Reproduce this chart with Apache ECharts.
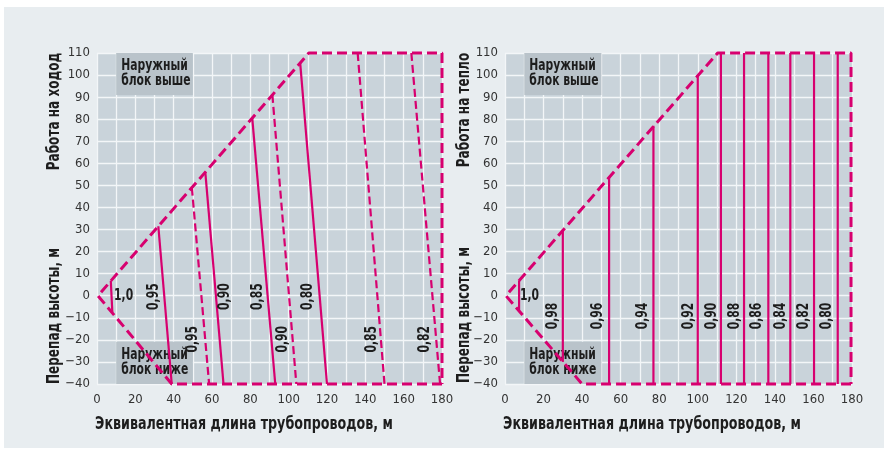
<!DOCTYPE html>
<html>
<head>
<meta charset="utf-8">
<script src="https://cdn.jsdelivr.net/npm/echarts@6/dist/echarts.min.js"></script>
<style>
  html, body { margin: 0; padding: 0; background: #ffffff; }
  #chart { width: 887px; height: 452px; }
</style>
</head>
<body>
<div id="chart"></div>
<script>
// ---- Cooling mode (left panel): correction-factor lines ----
const coolEnvelope = [[180, -40], [39, -40], [0.5, 0], [110.5, 110], [180, 110], [180, -40]];
const coolSolidTop = [[7.2, 6.7], [32, 31.5], [56.5, 56], [81, 80.5], [106, 105.5]];
const coolSolidBottom = [[8, -7.5], [39, -40], [66, -40], [93, -40], [120, -40]];
const coolDashedTop = [[49.5, 49], [91.5, 91], [136, 110], [164, 110]];
const coolDashedBottom = [[58.5, -40], [104, -40], [150, -40], [179, -40]];
const coolLabelText = ['0,95', '0,90', '0,85', '0,80', '0,95', '0,90', '0,85', '0,82'];
const coolLabelX = [29.7, 66.8, 84, 110, 49.9, 96.9, 143.3, 171];
const coolLabelY = [-0.4, -0.4, -0.4, -0.4, -19.7, -19.7, -19.7, -19.7];
const coolUnityLabel = { text: '1,0', x: 13.9, y: 0 };

// ---- Heating mode (right panel): correction-factor lines ----
const heatEnvelope = [[179.5, -40], [40, -40], [0.5, 0], [110.3, 110], [179.5, 110], [179.5, -40]];
const heatLineX = [7.3, 30, 54, 77, 100, 112, 124, 136.6, 148, 160.3, 172.6];
const heatLineTop = [6.7, 30, 54, 77, 100, 110, 110, 110, 110, 110, 110];
const heatLineBottom = [-6.6, -30, -40, -40, -40, -40, -40, -40, -40, -40, -40];
const heatLabelText = ['0,98', '0,96', '0,94', '0,92', '0,90', '0,88', '0,86', '0,84', '0,82', '0,80'];
const heatLabelX = [25, 48.4, 71.4, 95.4, 107.2, 119.3, 130.9, 143, 155.1, 167.2];
const heatLabelY = [-9.2, -9.2, -9.2, -9.2, -9.2, -9.2, -9.2, -9.2, -9.2, -9.2];
const heatUnityLabel = { text: '1,0', x: 12.7, y: 0 };

// ---- Axis setup ----
const xMin = 0, xMax = 180, xStep = 10, xLabelStep = 20;
const yMin = -40, yMax = 110, yStep = 10;

// Note boxes: [xFrom, xTo, yFrom, yTo]
const noteBoxes = [[10, 50, 91, 110], [10, 50, -40, -20.8]];
const noteText = ['Наружный\nблок выше', 'Наружный\nблок ниже'];

const FONT = "'DejaVu Sans Condensed','Liberation Sans Narrow','Roboto Condensed','Liberation Sans',sans-serif";
const MAGENTA = '#d7006f';
const INK = '#1d1d1d';
const SQUEEZE = 0.8;   // horizontal squeeze for the condensed lettering

const chart = echarts.init(document.getElementById('chart'), null, { renderer: 'canvas' });

function xAxisDef(gi) {
  return {
    gridIndex: gi, type: 'value', min: xMin, max: xMax, interval: xStep,
    axisLine: { show: false }, axisTick: { show: false },
    splitLine: { show: true, lineStyle: { color: '#f3f6f8', width: 1.3 } },
    axisLabel: {
      color: '#333333', fontSize: 13, fontFamily: FONT, margin: 9,
      formatter: v => (v % xLabelStep === 0 ? String(v) : '')
    }
  };
}
function yAxisDef(gi) {
  return {
    gridIndex: gi, type: 'value', min: yMin, max: yMax, interval: yStep,
    axisLine: { show: false }, axisTick: { show: false },
    splitLine: { show: true, lineStyle: { color: '#f3f6f8', width: 1.3 } },
    axisLabel: {
      color: '#333333', fontSize: 13, fontFamily: FONT, margin: 7,
      formatter: v => String(v).replace('-', '\u2212')
    }
  };
}

function seg(gi, pts, dashed, width, dash) {
  return {
    type: 'line', xAxisIndex: gi, yAxisIndex: gi, data: pts,
    showSymbol: false, symbol: 'none', clip: false, silent: true, z: 3,
    lineStyle: { color: MAGENTA, width: width, type: dashed ? dash : 'solid', cap: 'butt' }
  };
}

// value labels placed through the axes, drawn as condensed bold text
function labelSeries(gi, texts, xs, ys, rotate) {
  return {
    type: 'custom', xAxisIndex: gi, yAxisIndex: gi, silent: true, z: 5,
    data: texts.map((t, i) => [xs[i], ys[i]]),
    renderItem: (params, api) => {
      const p = api.coord([api.value(0), api.value(1)]);
      return {
        type: 'text', x: p[0], y: p[1], rotation: rotate * Math.PI / 180,
        scaleX: SQUEEZE, scaleY: 1,
        style: { text: texts[params.dataIndex], fill: INK, font: 'bold 15px ' + FONT,
                 align: 'center', verticalAlign: 'middle' }
      };
    }
  };
}

function boxSeries(gi) {
  return {
    type: 'custom', xAxisIndex: gi, yAxisIndex: gi, silent: true, z: 2,
    data: noteBoxes,
    renderItem: (params, api) => {
      const p0 = api.coord([api.value(0), api.value(3)]);
      const p1 = api.coord([api.value(1), api.value(2)]);
      return {
        type: 'group', children: [
          { type: 'rect', shape: { x: p0[0], y: p0[1], width: p1[0] - p0[0], height: p1[1] - p0[1] },
            style: { fill: '#b9c3ca' } },
          { type: 'text', x: p0[0] + 5, y: (p0[1] + p1[1]) / 2, scaleX: SQUEEZE,
            style: { text: noteText[params.dataIndex], fill: INK, font: 'bold 15px ' + FONT,
                     verticalAlign: 'middle', align: 'left', lineHeight: 15 } }
        ]
      };
    }
  };
}

const series = [];
// left panel
series.push(boxSeries(0));
series.push(seg(0, coolEnvelope, true, 3, [10, 5]));
coolSolidTop.forEach((p, i) => series.push(seg(0, [p, coolSolidBottom[i]], false, 2.2)));
coolDashedTop.forEach((p, i) => series.push(seg(0, [p, coolDashedBottom[i]], true, 2.2, [8, 4])));
series.push(labelSeries(0, coolLabelText, coolLabelX, coolLabelY, 90));
series.push(labelSeries(0, [coolUnityLabel.text], [coolUnityLabel.x], [coolUnityLabel.y], 0));
// right panel
series.push(boxSeries(1));
series.push(seg(1, heatEnvelope, true, 3, [10, 5]));
heatLineX.forEach((x, i) => series.push(seg(1, [[x, heatLineTop[i]], [x, heatLineBottom[i]]], false, 2.2)));
series.push(labelSeries(1, heatLabelText, heatLabelX, heatLabelY, 90));
series.push(labelSeries(1, [heatUnityLabel.text], [heatUnityLabel.x], [heatUnityLabel.y], 0));

const titleStyle = { fill: INK, font: 'bold 17px ' + FONT, align: 'center', verticalAlign: 'middle' };
function vtitle(x, y, text) {
  return { type: 'text', x: x, y: y, rotation: Math.PI / 2, scaleX: 0.79,
           style: Object.assign({ text: text }, titleStyle) };
}
function htitle(x, y, text) {
  return { type: 'text', x: x, y: y, scaleX: 0.83, style: Object.assign({ text: text }, titleStyle) };
}

chart.setOption({
  animation: false,
  backgroundColor: 'transparent',
  grid: [
    { left: 97, top: 53, width: 345, height: 331, show: true, backgroundColor: '#c9d3da', borderWidth: 0 },
    { left: 505, top: 53, width: 347, height: 331, show: true, backgroundColor: '#c9d3da', borderWidth: 0 }
  ],
  xAxis: [xAxisDef(0), xAxisDef(1)],
  yAxis: [yAxisDef(0), yAxisDef(1)],
  graphic: [
    { type: 'rect', z: -10, shape: { x: 4, y: 7, width: 880, height: 441 }, style: { fill: '#e8edf0' } },
    vtitle(55, 111.5, 'Работа на ходод'),
    vtitle(55, 316, 'Перепад высоты, м'),
    vtitle(464.5, 110, 'Работа на тепло'),
    vtitle(464.5, 315, 'Перепад высоты, м'),
    htitle(244, 425, 'Эквивалентная длина трубопроводов, м'),
    htitle(652, 425, 'Эквивалентная длина трубопроводов, м')
  ],
  series: series
});
</script>
</body>
</html>
